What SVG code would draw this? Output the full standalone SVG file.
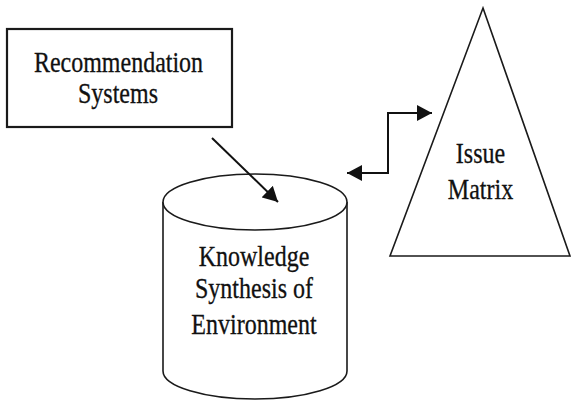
<svg xmlns="http://www.w3.org/2000/svg" width="572" height="404" viewBox="0 0 572 404">
  <style>
    .shape { fill: #ffffff; stroke: #1a1a1a; stroke-width: 1.6; }
    .box { fill: #ffffff; stroke: #1a1a1a; stroke-width: 2.2; }
    .label { font-family: "Liberation Serif", "Times New Roman", serif; font-size: 24px; fill: #111111; stroke: #111111; stroke-width: 0.25; text-anchor: middle; }
    .conn { fill: none; stroke: #111111; stroke-width: 2; }
  </style>
  <defs>
    <marker id="head" markerUnits="userSpaceOnUse" markerWidth="15" markerHeight="16" refX="15" refY="8" orient="auto-start-reverse">
      <path d="M0,0 L15,8 L0,16 Z" fill="#111111"/>
    </marker>
  </defs>

  <rect width="572" height="404" fill="#ffffff"/>

  <!-- Recommendation Systems box -->
  <g id="recommendation-systems">
    <rect class="box" x="7" y="29" width="225" height="98"/>
    <text class="label" transform="translate(118.5,72) scale(1,1.25)">Recommendation</text>
    <text class="label" transform="translate(118,103) scale(1,1.25)">Systems</text>
  </g>

  <!-- Knowledge store cylinder -->
  <g id="knowledge-synthesis">
    <path class="shape" d="M163,202 V371 A92,28 0 0 0 347,371 V202"/>
    <ellipse class="shape" cx="255" cy="202" rx="92" ry="28"/>
    <text class="label" transform="translate(254,266) scale(1,1.25)">Knowledge</text>
    <text class="label" transform="translate(254,298) scale(1,1.25)">Synthesis of</text>
    <text class="label" transform="translate(254,334) scale(1,1.25)">Environment</text>
  </g>

  <!-- Issue Matrix triangle -->
  <g id="issue-matrix">
    <polygon class="shape" points="483,8 570,256 390,256"/>
    <text class="label" transform="translate(480.5,163) scale(1,1.25)">Issue</text>
    <text class="label" transform="translate(480.5,199) scale(1,1.25)">Matrix</text>
  </g>

  <!-- Connectors -->
  <g id="connectors">
    <path class="conn" d="M212,138 L278,202" marker-end="url(#head)"/>
    <path class="conn" d="M347,173 H388 V113 H432" marker-start="url(#head)" marker-end="url(#head)"/>
  </g>
</svg>
